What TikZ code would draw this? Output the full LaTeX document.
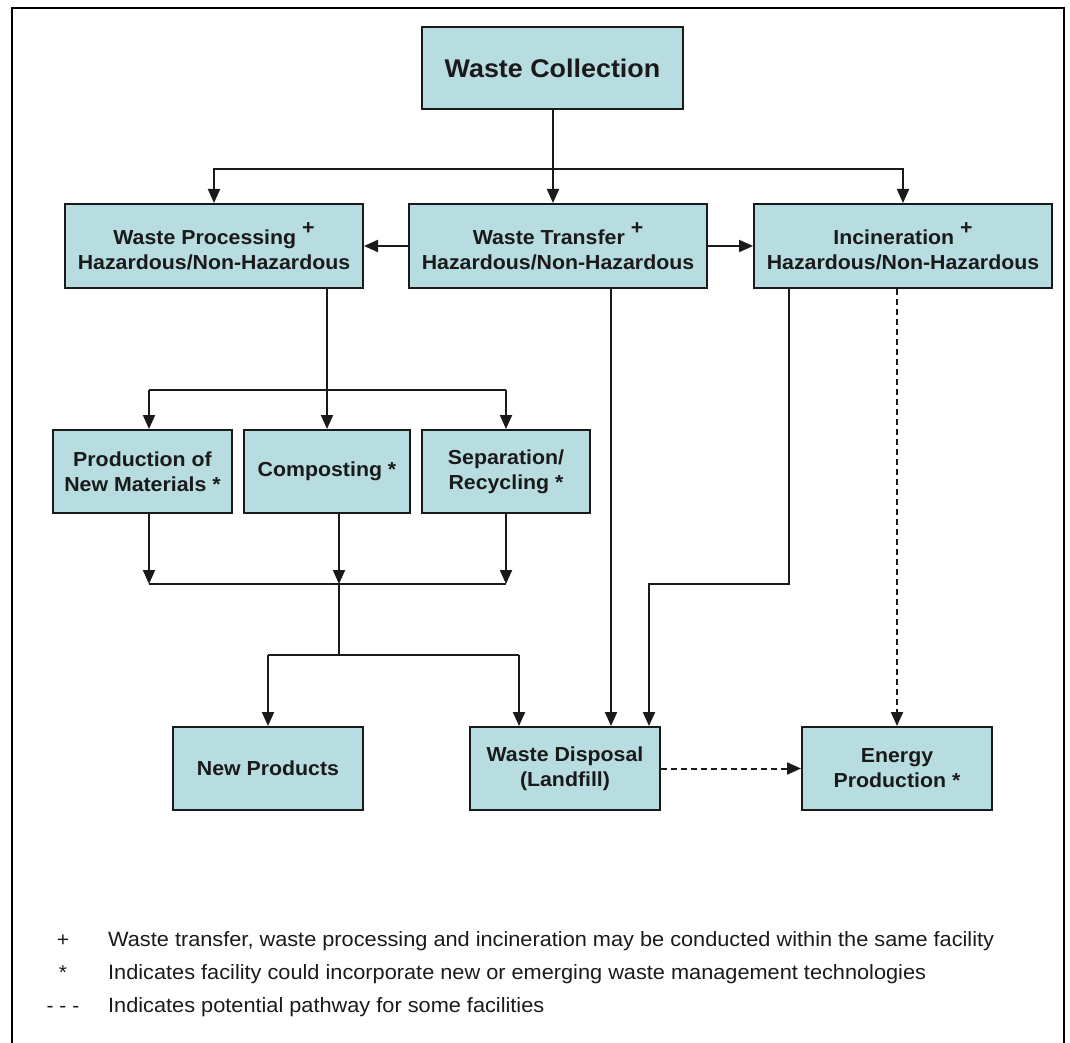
\documentclass[tikz,border=0pt]{standalone}
\usepackage{fontspec}
\setmainfont{Liberation Sans}
\newfontfamily\boxfont[FakeStretch=1.05]{Liberation Sans}
\usetikzlibrary{arrows.meta}
\definecolor{boxfill}{RGB}{183,221,224}
\definecolor{ink}{RGB}{26,26,26}
\begin{document}
\begin{tikzpicture}[x=1pt,y=-1pt,
  box/.style={draw=ink, line width=2pt, fill=boxfill, inner sep=0pt, align=center, text=ink,
    font=\boxfont\bfseries\fontsize{20.3}{25}\selectfont},
  ln/.style={draw=ink, line width=2pt},
  arr/.style={ln, -{Triangle[length=14pt,width=12pt]}},
  dsh/.style={arr, dash pattern=on 6pt off 4pt},
  legtxt/.style={anchor=base west, inner sep=0pt, text=ink, font=\boxfont\fontsize{20.7}{24}\selectfont},
  legsym/.style={anchor=base, inner sep=0pt, text=ink, font=\boxfont\fontsize{20}{24}\selectfont}]
\useasboundingbox (0,0) rectangle (1070,1043);
\fill[white] (0,0) rectangle (1070,1043);
\draw[line width=2.6pt] (12,1060) -- (12,8) -- (1064,8) -- (1064,1060);
% nodes
\node[box, minimum width=261pt, minimum height=82pt, font=\boxfont\bfseries\fontsize{25.6}{30}\selectfont] (coll) at (552.5,68) {Waste Collection};
\node[box, minimum width=298pt, minimum height=84pt] (proc) at (214,246) {Waste Processing \raisebox{0.5em}{+}\\Hazardous/Non-Hazardous};
\node[box, minimum width=298pt, minimum height=84pt] (trans) at (558,246) {Waste Transfer \raisebox{0.5em}{+}\\Hazardous/Non-Hazardous};
\node[box, minimum width=298pt, minimum height=84pt] (inc) at (903,246) {Incineration \raisebox{0.5em}{+}\\Hazardous/Non-Hazardous};
\node[box, minimum width=179pt, minimum height=83pt] (prod) at (142.5,471.5) {Production of\\New Materials *};
\node[box, minimum width=166pt, minimum height=83pt] (comp) at (327,471.5) {Composting *};
\node[box, minimum width=168pt, minimum height=83pt] (sep) at (506,471.5) {Separation/\\Recycling *};
\node[box, minimum width=190pt, minimum height=83pt] (newp) at (268,768.5) {New Products};
\node[box, minimum width=190pt, minimum height=83pt] (disp) at (565,768.5) {Waste Disposal\\(Landfill)};
\node[box, minimum width=190pt, minimum height=83pt] (ener) at (897,768.5) {Energy\\Production *};
% top distribution
\coordinate (j0) at (553,169);
\draw[ln] (coll.south -| j0) -- (j0);
\draw[arr] (j0) -| (proc.north);
\draw[arr] (j0) -- (j0 |- trans.north);
\draw[arr] (j0) -| (inc.north);
\draw[arr] (trans.west) -- (proc.east);
\draw[arr] (trans.east) -- (inc.west);
% processing split
\coordinate (j1) at (327,390);
\coordinate (j1l) at (149,390);
\coordinate (j1r) at (506,390);
\draw[ln] (proc.south -| j1) -- (j1);
\draw[ln] (j1l) -- (j1r);
\draw[arr] (j1l) -- (j1l |- prod.north);
\draw[arr] (j1) -- (comp.north);
\draw[arr] (j1r) -- (sep.north);
% merge
\coordinate (j2l) at (149,584);
\coordinate (j2) at (339,584);
\coordinate (j2r) at (506,584);
\draw[ln] (j2l) -- (j2r);
\draw[arr] (prod.south -| j2l) -- (j2l);
\draw[arr] (comp.south -| j2) -- (j2);
\draw[arr] (sep.south -| j2r) -- (j2r);
\coordinate (j3) at (339,655);
\coordinate (j3l) at (268,655);
\coordinate (j3r) at (519,655);
\draw[ln] (j2) -- (j3);
\draw[ln] (j3l) -- (j3r);
\draw[arr] (j3l) -- (newp.north);
\draw[arr] (j3r) -- (j3r |- disp.north);
% transfer and incineration to disposal
\coordinate (tx) at (611,500);
\draw[arr] (trans.south -| tx) -- (disp.north -| tx);
\coordinate (ix) at (789,584);
\coordinate (ik) at (649,584);
\draw[arr] (inc.south -| ix) -- (ix) -- (ik) -- (ik |- disp.north);
% dashed pathways
\draw[dsh] (inc.south -| ener.north) -- (ener.north);
\draw[dsh] (disp.east) -- (ener.west);
% legend
\node[legsym] (s1) at (63,946) {+};
\node[legtxt] (l1) at (108,946) {Waste transfer, waste processing and incineration may be conducted within the same facility};
\node[legsym] (s2) at (63,979) {*};
\node[legtxt] (l2) at (108,979) {Indicates facility could incorporate new or emerging waste management technologies};
\node[legsym] (s3) at (63,1012) {- - -};
\node[legtxt] (l3) at (108,1012) {Indicates potential pathway for some facilities};
\end{tikzpicture}
\end{document}
